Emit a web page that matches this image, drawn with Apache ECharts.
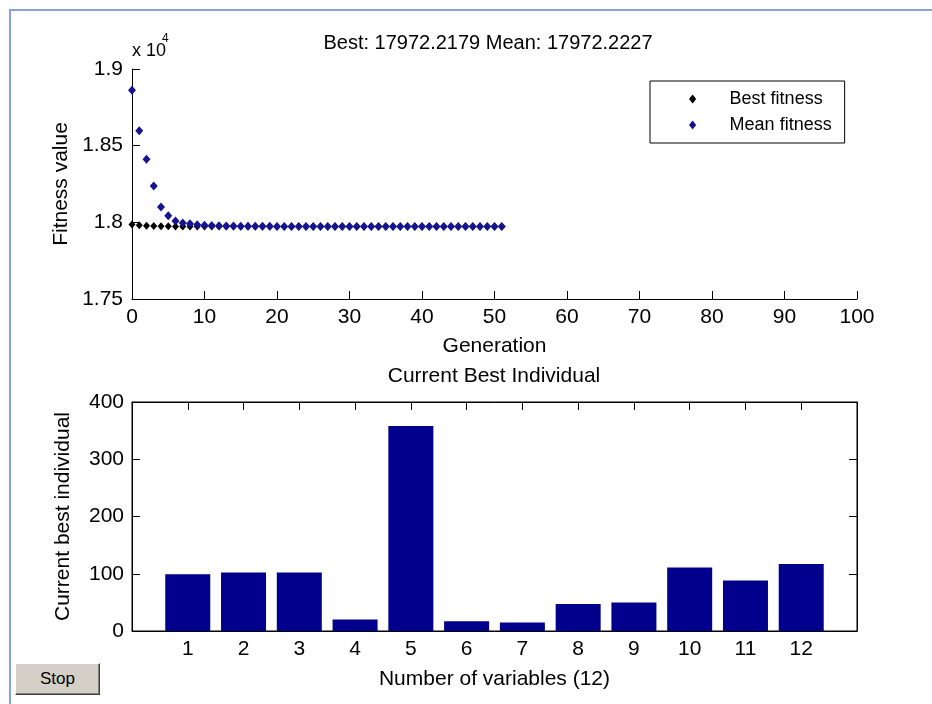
<!DOCTYPE html>
<html>
<head>
<meta charset="utf-8">
<title>GA progress</title>
<script src="https://cdn.jsdelivr.net/npm/echarts@6/dist/echarts.min.js"></script>
<style>
    html, body { margin: 0; padding: 0; background: #fff; }
    #main { position: absolute; left: 0; top: 0; width: 932px; height: 704px; }
    .frame {
        position: absolute; left: 9px; top: 9px; right: 0; bottom: 0;
        border-left: 2px solid #86a3dc; border-top: 2px solid #86a3dc;
        pointer-events: none;
    }
    .stop {
        position: absolute; left: 15px; top: 663px; width: 83px; height: 30px;
        background: #d4d0c8; border: 1px solid; border-color: #fff #404040 #404040 #fff;
        box-shadow: inset -1px -1px 0 #808080;
        font: 17px "Liberation Sans", Arial, sans-serif; color: #000;
        line-height: 30px; text-align: center;
    }
</style>
</head>
<body>
<div id="main"></div>
<div class="frame"></div>
<div class="stop">Stop</div>
<script type="text/javascript">
    // generation numbers
    var generations = [0, 1, 2, 3, 4, 5, 6, 7, 8, 9, 10, 11, 12, 13, 14, 15, 16, 17, 18, 19,
        20, 21, 22, 23, 24, 25, 26, 27, 28, 29, 30, 31, 32, 33, 34, 35, 36, 37, 38, 39,
        40, 41, 42, 43, 44, 45, 46, 47, 48, 49, 50, 51];
    var bestFitness = [17986, 17981, 17978, 17976, 17975, 17974, 17973.5, 17973, 17972.9, 17972.8,
        17972.7, 17972.6, 17972.6, 17972.5, 17972.5, 17972.4, 17972.4, 17972.4, 17972.3, 17972.3,
        17972.3, 17972.3, 17972.3, 17972.3, 17972.3, 17972.2, 17972.2, 17972.2, 17972.2, 17972.2,
        17972.2, 17972.2, 17972.2, 17972.2, 17972.2, 17972.2, 17972.2, 17972.2, 17972.2, 17972.2,
        17972.2, 17972.2, 17972.2, 17972.2, 17972.2, 17972.2, 17972.2, 17972.2, 17972.2, 17972.2,
        17972.2, 17972.2179];
    var meanFitness = [18861, 18598, 18411, 18237, 18100, 18043, 18009, 17995, 17990, 17984,
        17981, 17979, 17977, 17976, 17975.5, 17975, 17974.6, 17974.3, 17974, 17973.8,
        17973.6, 17973.4, 17973.3, 17973.1, 17973.0, 17972.9, 17972.8, 17972.7, 17972.6, 17972.6,
        17972.5, 17972.5, 17972.4, 17972.4, 17972.4, 17972.3, 17972.3, 17972.3, 17972.3, 17972.3,
        17972.3, 17972.3, 17972.3, 17972.2, 17972.2, 17972.2, 17972.2, 17972.2, 17972.2, 17972.2,
        17972.2, 17972.2227];

    // current best individual
    var variableIndex = [1, 2, 3, 4, 5, 6, 7, 8, 9, 10, 11, 12];
    var bestIndividual = [99, 102, 102, 20, 358, 17, 15, 47, 50, 111, 88, 117];

    var font = '"Liberation Sans", Arial, sans-serif';
    var diamondIcon = 'path://M0,-1L0.8,0L0,1L-0.8,0Z';

    function pairs(xs, ys) {
        var out = [];
        for (var i = 0; i < xs.length; i++) {
            out.push([xs[i], ys[i]]);
        }
        return out;
    }

    function axisBase(extra) {
        var a = {
            axisLine: {show: true, onZero: false, lineStyle: {color: '#000', width: 1}},
            axisTick: {show: true, inside: true, length: 8, lineStyle: {color: '#000'}},
            axisLabel: {color: '#000', fontSize: 21, fontFamily: font, margin: 8},
            splitLine: {show: false},
            nameTextStyle: {color: '#000', fontSize: 21, fontFamily: font}
        };
        for (var k in extra) a[k] = extra[k];
        return a;
    }

    var chart = echarts.init(document.getElementById('main'));

    var option = {
        animation: false,
        grid: [
            {left: 132, right: 75, top: 69, height: 230},
            {left: 132, right: 75, top: 402, height: 229, show: true, borderColor: '#000', borderWidth: 1}
        ],
        legend: {
            data: [{name: 'Best fitness', icon: diamondIcon}, {name: 'Mean fitness', icon: diamondIcon}],
            orient: 'vertical',
            left: 650,
            top: 81,
            itemWidth: 64,
            itemHeight: 9,
            itemGap: 8,
            padding: [9, 13, 9, 39],
            borderColor: '#000',
            borderWidth: 1,
            backgroundColor: '#fff',
            textStyle: {color: '#000', fontSize: 18, fontFamily: font}
        },
        xAxis: [
            axisBase({
                gridIndex: 0, type: 'value', min: 0, max: 100, interval: 10,
                name: 'Generation', nameLocation: 'middle', nameGap: 37
            }),
            axisBase({
                gridIndex: 1, type: 'value', min: 0, max: 13, interval: 1,
                name: 'Number of variables (12)', nameLocation: 'middle', nameGap: 38,
                axisLabel: {
                    color: '#000', fontSize: 21, fontFamily: font, margin: 8,
                    formatter: function (v) { return (v === 0 || v === 13) ? '' : String(v); }
                }
            }),
            axisBase({
                gridIndex: 1, type: 'value', min: 0, max: 13, interval: 1, position: 'top',
                axisLabel: {show: false}
            })
        ],
        yAxis: [
            axisBase({
                gridIndex: 0, type: 'value', min: 17500, max: 19000, interval: 500,
                name: 'Fitness value', nameLocation: 'middle', nameGap: 58,
                axisLabel: {
                    color: '#000', fontSize: 21, fontFamily: font, margin: 9,
                    formatter: function (v) { return String(v / 10000); }
                }
            }),
            axisBase({
                gridIndex: 1, type: 'value', min: 0, max: 400, interval: 100,
                name: 'Current best individual', nameLocation: 'middle', nameGap: 58
            }),
            axisBase({
                gridIndex: 1, type: 'value', min: 0, max: 400, interval: 100, position: 'right',
                axisLabel: {show: false}
            })
        ],
        series: [
            {
                name: 'Best fitness',
                type: 'scatter',
                xAxisIndex: 0,
                yAxisIndex: 0,
                symbol: 'diamond',
                symbolSize: [7, 8],
                itemStyle: {color: '#000', opacity: 1},
                data: pairs(generations, bestFitness)
            },
            {
                name: 'Mean fitness',
                type: 'scatter',
                xAxisIndex: 0,
                yAxisIndex: 0,
                symbol: 'diamond',
                symbolSize: [8, 9],
                itemStyle: {color: '#14148f', opacity: 1},
                data: pairs(generations, meanFitness)
            },
            {
                type: 'bar',
                xAxisIndex: 1,
                yAxisIndex: 1,
                barWidth: 45,
                itemStyle: {color: '#00008c'},
                data: pairs(variableIndex, bestIndividual)
            }
        ],
        graphic: [
            {
                type: 'text', x: 488, y: 43,
                style: {text: 'Best: 17972.2179 Mean: 17972.2227', fill: '#000',
                    font: '20px ' + font, textAlign: 'center', textVerticalAlign: 'middle'}
            },
            {
                type: 'text', x: 132, y: 51,
                style: {text: 'x 10', fill: '#000', font: '18px ' + font, textAlign: 'left', textVerticalAlign: 'middle'}
            },
            {
                type: 'text', x: 162, y: 39,
                style: {text: '4', fill: '#000', font: '12px ' + font, textAlign: 'left', textVerticalAlign: 'middle'}
            },
            {
                type: 'text', x: 494, y: 376,
                style: {text: 'Current Best Individual', fill: '#000',
                    font: '21px ' + font, textAlign: 'center', textVerticalAlign: 'middle'}
            }
        ]
    };

    chart.setOption(option);
</script>
</body>
</html>
